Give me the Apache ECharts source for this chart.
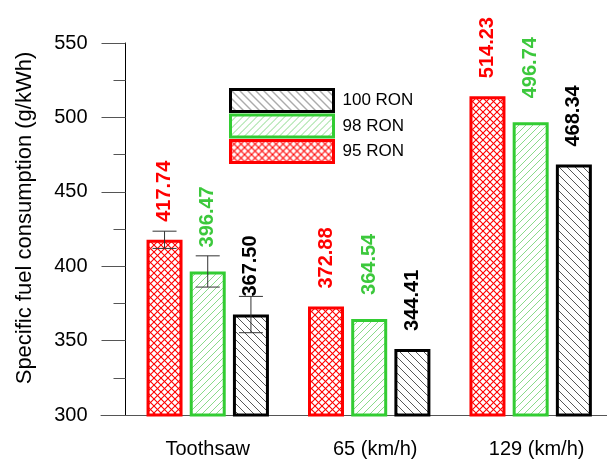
<!DOCTYPE html>
<html>
<head>
<meta charset="utf-8">
<script src="https://cdn.jsdelivr.net/npm/echarts@6/dist/echarts.min.js"></script>
<style>
html,body{margin:0;padding:0;background:#fff;}
#chart{width:607px;height:461px;}
</style>
</head>
<body>
<div id="chart"></div>
<script>
// ---- data ----
const categories = ['Toothsaw', '65 (km/h)', '129 (km/h)'];
const seriesNames = ['95 RON', '98 RON', '100 RON'];
const ron95 = [417.74, 372.88, 514.23];
const ron98 = [396.47, 364.54, 496.74];
const ron100 = [367.50, 344.41, 468.34];
const err95 = [5.8, null, null];
const err98 = [10.5, null, null];
const err100 = [12.2, null, null];
const yMin = 300, yMax = 550, yStep = 50;
const legendOrder = ['100 RON', '98 RON', '95 RON'];

// ---- styles ----
const FONT = 'Liberation Sans, Arial, Helvetica, sans-serif';
const BAR_W = 36, BAR_GAP = 0.2;
const labelShift = [0, 12, 12]; // left padding (px) of category labels

function makePattern(kind, color, size, lw) {
  const c = document.createElement('canvas');
  c.width = size; c.height = size;
  const g = c.getContext('2d');
  g.fillStyle = '#fff'; g.fillRect(0, 0, size, size);
  g.strokeStyle = color; g.lineWidth = lw;
  const s = size;
  function fwd() { // "/"
    g.beginPath();
    g.moveTo(-1, s + 1); g.lineTo(s + 1, -1);
    g.moveTo(-1, 1); g.lineTo(1, -1);
    g.moveTo(s - 1, s + 1); g.lineTo(s + 1, s - 1);
    g.stroke();
  }
  function back() { // "\"
    g.beginPath();
    g.moveTo(-1, -1); g.lineTo(s + 1, s + 1);
    g.moveTo(s - 1, -1); g.lineTo(s + 1, 1);
    g.moveTo(-1, s - 1); g.lineTo(1, s + 1);
    g.stroke();
  }
  if (kind === 'cross') { fwd(); back(); }
  else if (kind === 'fwd') fwd();
  else back();
  return { image: c, repeat: 'repeat' };
}

const styles = {
  '95 RON': { fill: makePattern('cross', '#ff0000', 7, 1.1), border: '#ff0000', label: '#ff0000', dist: 18 },
  '98 RON': { fill: makePattern('fwd', '#7dd67d', 7, 0.9), border: '#33cc33', label: '#3cc83c', dist: 24 },
  '100 RON': { fill: makePattern('back', '#444444', 8, 0.9), border: '#000000', label: '#000000', dist: 18 }
};

const values = { '95 RON': ron95, '98 RON': ron98, '100 RON': ron100 };
const errors = { '95 RON': err95, '98 RON': err98, '100 RON': err100 };

const barSeries = seriesNames.map(name => ({
  name: name,
  type: 'bar',
  barWidth: BAR_W,
  barGap: (BAR_GAP * 100) + '%',
  data: values[name],
  itemStyle: { color: styles[name].fill, borderColor: styles[name].border, borderWidth: 3 },
  label: {
    show: true, position: 'top', rotate: 90, align: 'left', verticalAlign: 'middle',
    distance: styles[name].dist,
    formatter: p => p.value.toFixed(2),
    color: styles[name].label, fontWeight: 'bold', fontSize: 20, fontFamily: FONT
  },
  z: 2
}));

const errSeries = seriesNames.map((name, i) => {
  const data = [];
  errors[name].forEach((e, k) => { if (e != null) data.push([k, values[name][k], e]); });
  const offset = (i - 1) * BAR_W * (1 + BAR_GAP);
  return {
    type: 'custom',
    name: name + ' err',
    data: data,
    z: 5,
    silent: true,
    renderItem: function (params, api) {
      const c = api.value(0), v = api.value(1), e = api.value(2);
      const x = api.coord([c, v])[0] + offset;
      const yh = api.coord([c, v + e])[1];
      const yl = api.coord([c, v - e])[1];
      const hw = 12;
      const st = { stroke: '#333', lineWidth: 1 };
      return {
        type: 'group',
        children: [
          { type: 'line', shape: { x1: x, y1: yh, x2: x, y2: yl }, style: st },
          { type: 'line', shape: { x1: x - hw, y1: yh, x2: x + hw, y2: yh }, style: st },
          { type: 'line', shape: { x1: x - hw, y1: yl, x2: x + hw, y2: yl }, style: st }
        ]
      };
    }
  };
});

const chart = echarts.init(document.getElementById('chart'), null, { renderer: 'canvas' });
chart.setOption({
  animation: false,
  backgroundColor: '#fff',
  textStyle: { fontFamily: FONT },
  grid: [
    { left: 127, width: 484.4, top: 43, bottom: 46, containLabel: false, outerBoundsMode: 'none' },
    { left: 101, right: 0, top: 43, bottom: 46, containLabel: false, outerBoundsMode: 'none' }
  ],
  legend: {
    data: legendOrder.map(n => ({
      name: n,
      itemStyle: { color: styles[n].fill, borderColor: styles[n].border, borderWidth: 3 }
    })),
    orient: 'vertical',
    left: 229,
    top: 88,
    padding: 0,
    itemWidth: 103,
    itemHeight: 22,
    itemGap: 0.5,
    icon: 'rect',
    textStyle: { fontSize: 17, lineHeight: 19, color: '#000', fontFamily: FONT, padding: [0, 0, 0, 4] },
    selectedMode: false
  },
  xAxis: [
    {
      type: 'category',
      gridIndex: 0,
      data: categories.map((c, i) => ({ value: c, textStyle: { padding: [0, 0, 0, labelShift[i]] } })),
      axisLine: { show: false },
      axisTick: { show: false },
      axisLabel: { fontSize: 20, color: '#000', margin: 24, fontFamily: FONT },
      splitLine: { show: false }
    },
    {
      type: 'value',
      gridIndex: 1,
      min: 0, max: 1,
      axisLine: { show: true, lineStyle: { color: '#555', width: 1 } },
      axisTick: { show: false },
      axisLabel: { show: false },
      splitLine: { show: false }
    }
  ],
  yAxis: [
    {
      type: 'value',
      gridIndex: 0,
      offset: 1.5,
      min: yMin, max: yMax, interval: yStep,
      name: 'Specific fuel consumption (g/kWh)',
      nameLocation: 'middle',
      nameGap: 90,
      nameTextStyle: { fontSize: 22, color: '#000', fontFamily: FONT, padding: [0, 0, 0, 22] },
      axisLine: { show: true, lineStyle: { color: '#000', width: 1 } },
      axisTick: { show: true, inside: false, length: 24, lineStyle: { color: '#555', width: 1 } },
      minorTick: { show: true, splitNumber: 2, length: 12, lineStyle: { color: '#555', width: 1 } },
      axisLabel: { fontSize: 20, color: '#000', margin: 38, fontFamily: FONT },
      splitLine: { show: false },
      minorSplitLine: { show: false }
    },
    {
      type: 'value',
      gridIndex: 1,
      show: false
    }
  ],
  series: barSeries.concat(errSeries)
});
</script>
</body>
</html>
